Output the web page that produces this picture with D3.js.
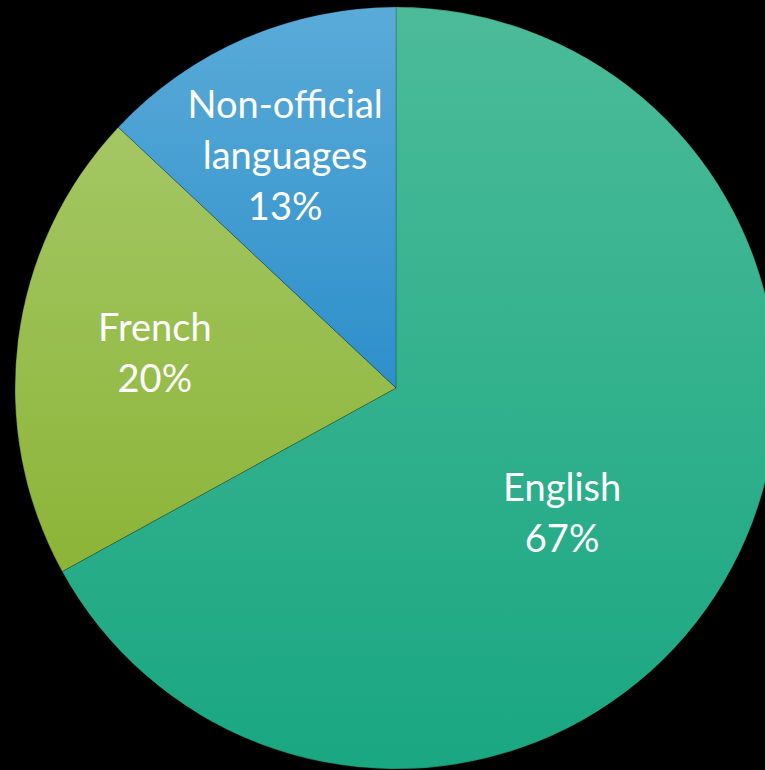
<!DOCTYPE html>
<html>
<head>
<meta charset="utf-8">
<script src="https://cdn.jsdelivr.net/npm/d3@7"></script>
<style>
  html, body { margin: 0; padding: 0; background: #000; }
  svg { display: block; }
</style>
</head>
<body>
<svg id="chart" width="765" height="770"></svg>
<script>
// Language shares
const categories = ["English", "French", "Non-official languages"];
const values = [67, 20, 13];
const labelLines = [["English", "67%"], ["French", "20%"], ["Non-official", "languages", "13%"]];
// Top / bottom gradient stops for each slice
const colorTop = ["#4cbb99", "#a4c764", "#5aabd8"];
const colorBottom = ["#19a781", "#8cb437", "#2d8fca"];

const width = 765, height = 770;
const cx = 396, cy = 388, radius = 381;

const svg = d3.select("#chart");
svg.append("rect").attr("width", width).attr("height", height).attr("fill", "#000");

const defs = svg.append("defs");
categories.forEach((c, i) => {
  const g = defs.append("linearGradient")
    .attr("id", "grad" + i)
    .attr("x1", 0).attr("y1", 0).attr("x2", 0).attr("y2", 1);
  g.append("stop").attr("offset", "0%").attr("stop-color", colorTop[i]);
  g.append("stop").attr("offset", "100%").attr("stop-color", colorBottom[i]);
});

const data = categories.map((c, i) => ({ name: c, value: values[i], lines: labelLines[i], idx: i }));

const pie = d3.pie().sort(null).value(d => d.value);
const arc = d3.arc().innerRadius(0).outerRadius(radius);

const g = svg.append("g").attr("transform", `translate(${cx},${cy})`);
const arcs = pie(data);

g.selectAll("path.slice")
  .data(arcs)
  .join("path")
  .attr("class", "slice")
  .attr("d", arc)
  .attr("fill", d => `url(#grad${d.data.idx})`)
  .attr("stroke", "rgba(0,0,0,0.25)")
  .attr("stroke-width", 0.8);

// Label anchors, as a fraction of the radius from the centre (x right, y down)
const labelAnchor = [[0.436, 0.328], [-0.633, -0.092], [-0.291, -0.609]];
const lineGap = 51;

g.selectAll("text.label")
  .data(arcs)
  .join("text")
  .attr("class", "label")
  .attr("text-anchor", "middle")
  .attr("fill", "#fff")
  .attr("font-family", "Lato, 'Open Sans', sans-serif")
  .attr("font-size", 38)
  .each(function (d) {
    const [fx, fy] = labelAnchor[d.data.idx];
    const x = fx * radius;
    const y = fy * radius;
    const n = d.data.lines.length;
    const t = d3.select(this);
    d.data.lines.forEach((line, k) => {
      t.append("tspan")
        .attr("x", x)
        .attr("y", y + (k - (n - 1) / 2) * lineGap)
        .attr("dy", "0.35em")
        .text(line);
    });
  });
</script>
</body>
</html>
